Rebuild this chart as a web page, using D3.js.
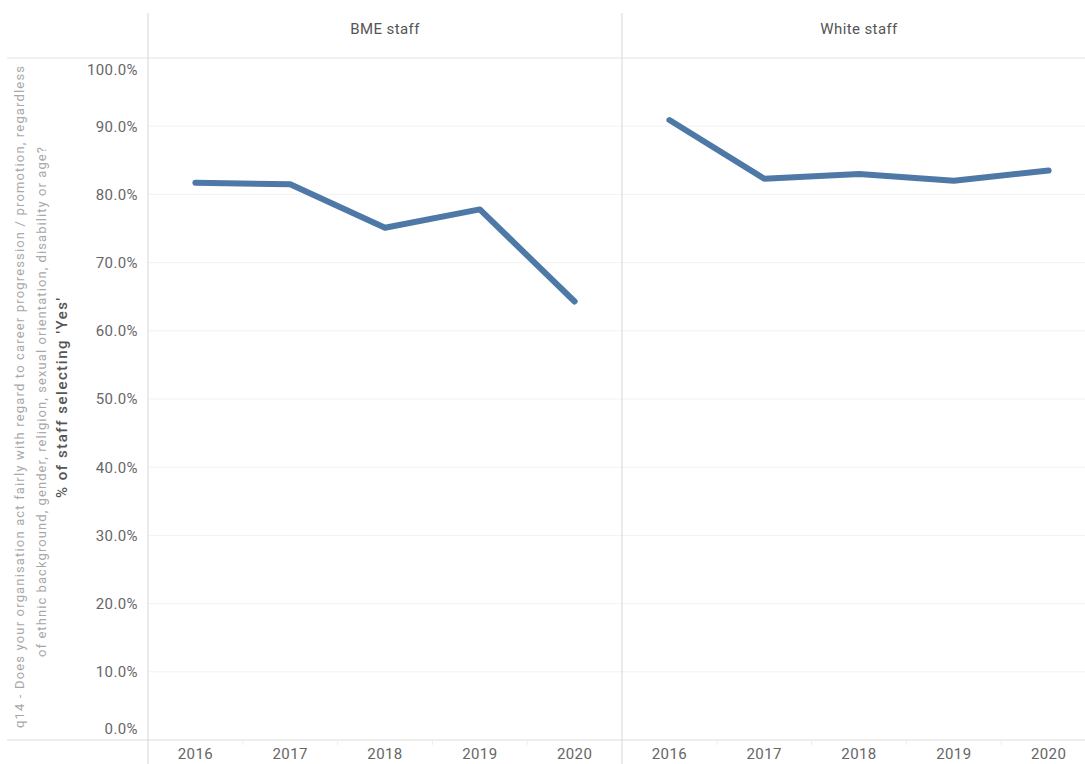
<!DOCTYPE html>
<html>
<head>
    <meta charset="utf-8">
    <title>Staff promotion fairness</title>
    <script src="https://d3js.org/d3.v7.min.js"></script>
    <style>
        body { margin: 0; padding: 0; background: #fff; }
        text { font-family: Roboto, "Noto Sans", sans-serif; }
    </style>
</head>
<body>
    <svg id="svg" width="1085" height="764"></svg>
    <script>
        // Data.
        const groups = ["BME staff", "White staff"];
        const years = ["2016", "2017", "2018", "2019", "2020"];
        const bmeValues = [81.7, 81.5, 75.1, 77.8, 64.3];
        const whiteValues = [90.9, 82.3, 83.0, 82.0, 83.5];
        const yTicks = [0, 10, 20, 30, 40, 50, 60, 70, 80, 90, 100];
        const questionLines = [
            "q14 - Does your organisation act fairly with regard to career progression / promotion, regardless",
            "of ethnic background, gender, religion, sexual orientation, disability or age?"
        ];
        const measureTitle = "% of staff selecting 'Yes'";

        const seriesByGroup = [bmeValues, whiteValues];

        const svg = d3.select("#svg");
        const plotLeft = 148, plotTop = 58, plotBottom = 740, panelW = 474;
        const headTop = 13;

        // Panel and value scales.
        const panel = d3.scaleBand().domain(groups).range([plotLeft, plotLeft + panelW * groups.length]);
        const y = d3.scaleLinear().domain([0, 100]).range([plotBottom, plotTop]);

        // Light gridlines.
        svg.append("g")
            .selectAll("line")
            .data(yTicks.filter(d => d > 0 && d < 100))
            .enter().append("line")
                .attr("x1", plotLeft).attr("x2", 1085)
                .attr("y1", d => y(d)).attr("y2", d => y(d))
                .attr("stroke", "#f2f2f2").attr("stroke-width", 1);

        // Header and bottom rules.
        svg.append("line").attr("x1", 7).attr("x2", 1085).attr("y1", plotTop).attr("y2", plotTop)
            .attr("stroke", "#e3e3e3");
        svg.append("line").attr("x1", 7).attr("x2", 1085).attr("y1", plotBottom).attr("y2", plotBottom)
            .attr("stroke", "#dcdcdc");

        // Panel dividers and headers.
        svg.append("line").attr("x1", plotLeft).attr("x2", plotLeft).attr("y1", headTop).attr("y2", 764)
            .attr("stroke", "#d6d6d6");
        groups.forEach((g, i) => {
            if (i > 0) {
                svg.append("line")
                    .attr("x1", panel(g)).attr("x2", panel(g))
                    .attr("y1", headTop).attr("y2", 764)
                    .attr("stroke", "#d6d6d6");
            }
            svg.append("text")
                .attr("x", panel(g) + panelW / 2)
                .attr("y", 34)
                .attr("text-anchor", "middle")
                .attr("fill", "#555")
                .style("font-size", "15px")
                .style("letter-spacing", "0.4px")
                .text(g);
        });

        // Y axis.
        const yAxis = svg.append("g")
            .attr("transform", `translate(${plotLeft},0)`)
            .call(d3.axisLeft(y).tickValues(yTicks).tickSize(0).tickPadding(10)
                .tickFormat(d => d.toFixed(1) + "%"));
        yAxis.select(".domain").remove();
        yAxis.selectAll("text")
            .attr("fill", "#666")
            .style("font-size", "15px")
            .style("letter-spacing", "0.4px")
            .attr("dy", d => d === 100 ? "1.1em" : d === 0 ? "-0.45em" : "0.32em");

        // Year axes and lines per panel.
        groups.forEach((g, i) => {
            const x = d3.scaleBand().domain(years).range([panel(g), panel(g) + panelW]);
            const xAxis = svg.append("g")
                .attr("transform", `translate(0,${plotBottom})`)
                .call(d3.axisBottom(x).tickSize(0).tickPadding(8));
            xAxis.select(".domain").remove();
            xAxis.selectAll("text").attr("fill", "#666")
                .style("font-size", "15px").style("letter-spacing", "0.4px");

            // small band separators on axis
            svg.append("g").selectAll("line")
                .data(years.slice(1))
                .enter().append("line")
                    .attr("x1", d => x(d)).attr("x2", d => x(d))
                    .attr("y1", plotBottom).attr("y2", plotBottom + 5)
                    .attr("stroke", "#eeeeee");

            const line = d3.line()
                .x((d, j) => x(years[j]) + x.bandwidth() / 2)
                .y(d => y(d));
            svg.append("path")
                .datum(seriesByGroup[i])
                .attr("d", line)
                .attr("fill", "none")
                .attr("stroke", "#4e79a7")
                .attr("stroke-width", 6)
                .attr("stroke-linejoin", "round")
                .attr("stroke-linecap", "round");
        });

        // Axis titles.
        const titleG = svg.append("g");
        const qLens = [662, 510];
        const qMid = [397, 402];
        questionLines.forEach((t, i) => {
            titleG.append("text")
                .attr("transform", `translate(${24 + i * 22},${qMid[i]}) rotate(-90)`)
                .attr("text-anchor", "middle")
                .attr("fill", "#a8a8a8")
                .style("font-size", "13px")
                .attr("textLength", qLens[i])
                .attr("lengthAdjust", "spacing")
                .text(t);
        });
        titleG.append("text")
            .attr("transform", `translate(67,398) rotate(-90)`)
            .attr("text-anchor", "middle")
            .attr("fill", "#555")
            .style("font-size", "15px")
            .style("font-weight", "500")
            .attr("textLength", 200)
            .attr("lengthAdjust", "spacing")
            .text(measureTitle);
    </script>
</body>
</html>
